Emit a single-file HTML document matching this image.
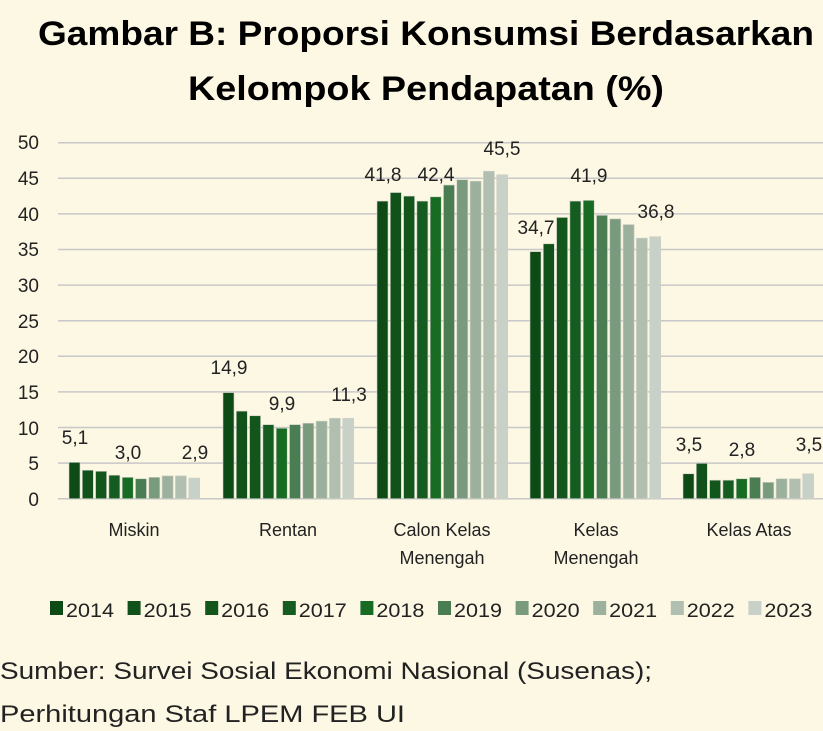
<!DOCTYPE html>
<html><head><meta charset="utf-8"><style>
html,body{margin:0;padding:0;background:#fdf8e3;}
svg{display:block}
text{font-family:"Liberation Sans",sans-serif;}
</style></head><body>
<svg id="s" width="823" height="731" viewBox="0 0 823 731" xmlns="http://www.w3.org/2000/svg">
<rect width="823" height="731" fill="#fdf8e3"/>
<text x="426" y="45" text-anchor="middle" font-size="34" font-weight="600" fill="#000" textLength="776" lengthAdjust="spacingAndGlyphs">Gambar B: Proporsi Konsumsi Berdasarkan</text>
<text x="426" y="100" text-anchor="middle" font-size="34" font-weight="600" fill="#000" textLength="476" lengthAdjust="spacingAndGlyphs">Kelompok Pendapatan (%)</text>
<g id="grid" stroke="#c8c8c8" stroke-width="1.5"></g>
<g font-size="19" fill="#222" text-anchor="end">
<text x="39" y="149">50</text><text x="39" y="185">45</text><text x="39" y="221">40</text><text x="39" y="256">35</text><text x="39" y="292">30</text><text x="39" y="328">25</text><text x="39" y="363">20</text><text x="39" y="399">15</text><text x="39" y="435">10</text><text x="39" y="470">5</text><text x="39" y="506">0</text>
</g>
<g id="bars"></g>
<g font-size="19" fill="#222" text-anchor="middle">
<text x="75" y="444">5,1</text><text x="128" y="459">3,0</text><text x="195" y="459">2,9</text>
<text x="229" y="374">14,9</text><text x="282" y="410">9,9</text><text x="349" y="401">11,3</text>
<text x="383" y="181">41,8</text><text x="436" y="181">42,4</text><text x="502" y="155">45,5</text>
<text x="536" y="234">34,7</text><text x="589" y="182">41,9</text><text x="656" y="218">36,8</text>
<text x="689" y="451">3,5</text><text x="742" y="456">2,8</text><text x="809" y="451">3,5</text>
</g>
<g font-size="18" fill="#222" text-anchor="middle">
<text x="134" y="536">Miskin</text>
<text x="288" y="536">Rentan</text>
<text x="442" y="536">Calon Kelas</text><text x="442" y="564">Menengah</text>
<text x="596" y="536">Kelas</text><text x="596" y="564">Menengah</text>
<text x="749" y="536">Kelas Atas</text>
</g>
<g id="legend" font-size="19" fill="#222"></g>
<text x="0" y="679" font-size="24" fill="#222" textLength="652" lengthAdjust="spacingAndGlyphs">Sumber: Survei Sosial Ekonomi Nasional (Susenas);</text>
<text x="0" y="722" font-size="24" fill="#222" textLength="405" lengthAdjust="spacingAndGlyphs">Perhitungan Staf LPEM FEB UI</text>
</svg>
<script>
var ns="http://www.w3.org/2000/svg";
function el(t,a,p){var e=document.createElementNS(ns,t);for(var k in a)e.setAttribute(k,a[k]);document.getElementById(p).appendChild(e);return e;}
var y0=498.7,k=7.12;
for(var i=0;i<=10;i++){var y=y0-i*5*k;el("line",{x1:58,x2:823,y1:y,y2:y},"grid");}
var cols=["#0d4a16","#11521b","#12561c","#145c1f","#186b23","#4a7d52","#7a9a7e","#9bb09d","#b1bfb1","#c8d1c8"];
var starts=[69,223,377,530,683];
var data=[[5.1,4.0,3.85,3.3,3.0,2.8,3.0,3.2,3.2,2.9],[14.9,12.3,11.65,10.4,9.9,10.4,10.6,10.9,11.3,11.3],[41.8,43.0,42.5,41.8,42.4,44.05,44.8,44.6,46.0,45.5],[34.7,35.8,39.5,41.8,41.9,39.8,39.3,38.5,36.6,36.8],[3.5,4.97,2.6,2.6,2.8,3.0,2.3,2.8,2.8,3.5]];
for(var g=0;g<5;g++)for(var j=0;j<10;j++){var v=data[g][j];el("rect",{x:starts[g]+j*13.3,y:y0-v*k,width:11,height:v*k,fill:cols[j],stroke:"#d0d0c8","stroke-width":0.6},"bars");}
for(var j=0;j<10;j++){var x=50+j*77.6;el("rect",{x:x,y:601,width:13,height:14,fill:cols[j]},"legend");var t=el("text",{x:x+16,y:617,textLength:48,lengthAdjust:"spacingAndGlyphs"},"legend");t.textContent=String(2014+j);}
</script>
</body></html>
